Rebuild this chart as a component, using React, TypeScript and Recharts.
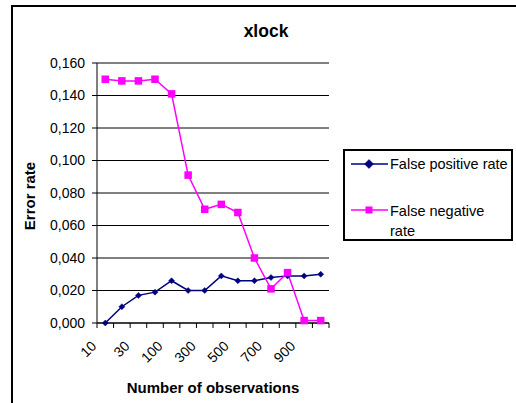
import React from "react";
import {
  LineChart,
  Line,
  XAxis,
  YAxis,
  CartesianGrid,
  ReferenceLine,
  Legend,
} from "recharts";

// observation counts on the category axis
const observations = [10, 20, 30, 50, 100, 200, 300, 400, 500, 600, 700, 800, 900, 1000];
const falsePositive = [0.0, 0.01, 0.017, 0.019, 0.026, 0.02, 0.02, 0.029, 0.026, 0.026, 0.028, 0.029, 0.029, 0.03];
const falseNegative = [0.15, 0.149, 0.149, 0.15, 0.141, 0.091, 0.07, 0.073, 0.068, 0.04, 0.021, 0.031, 0.0015, 0.0015];
const yTicks = [0, 0.02, 0.04, 0.06, 0.08, 0.1, 0.12, 0.14, 0.16];

const data = observations.map((n, i) => ({
  n: String(n),
  fp: falsePositive[i],
  fn: falseNegative[i],
}));

const FONT = "'Liberation Sans', Arial, sans-serif";
const NAVY = "#000080";
const MAGENTA = "#ff00ff";

const PLOT_LEFT = 97;
const PLOT_RIGHT = 329;
const HALF_STEP = (PLOT_RIGHT - PLOT_LEFT) / (observations.length * 2);

const fmt = (v: number) => v.toFixed(3).replace(".", ",");

const Diamond = ({ cx, cy, fill, r = 4.5 }: any) =>
  cx == null || cy == null ? null : (
    <polygon
      points={`${cx},${cy - r} ${cx + r},${cy} ${cx},${cy + r} ${cx - r},${cy}`}
      fill={fill}
      stroke={fill}
      strokeWidth={0.5}
    />
  );

const Square = ({ cx, cy, fill, s = 7.5 }: any) =>
  cx == null || cy == null ? null : (
    <rect x={cx - s / 2} y={cy - s / 2} width={s} height={s} fill={fill} />
  );

// tick marks sit on the category boundaries, labels on every other category
const XTick = ({ x, y, payload, index }: any) => {
  const last = index === observations.length - 1;
  return (
    <g>
      <line x1={x - HALF_STEP} x2={x - HALF_STEP} y1={y} y2={y + 5} stroke="#000" />
      {last && <line x1={x + HALF_STEP} x2={x + HALF_STEP} y1={y} y2={y + 5} stroke="#000" />}
      {index % 2 === 0 && (
        <text
          x={x - 8}
          y={y + 24}
          textAnchor="end"
          transform={`rotate(-45 ${x - 8} ${y + 24})`}
          fontSize={14}
          fontFamily={FONT}
          fill="#000"
        >
          {payload.value}
        </text>
      )}
    </g>
  );
};

const LegendBox = () => (
  <div
    style={{
      width: 166,
      height: 88,
      border: "2px solid #000",
      background: "#fff",
      fontFamily: FONT,
      fontSize: 14.5,
      position: "relative",
    }}
  >
    <svg width={40} height={90} style={{ position: "absolute", left: 4, top: 0 }}>
      <line x1={2} x2={39} y1={13} y2={13} stroke={NAVY} strokeWidth={1.5} />
      <Diamond cx={20} cy={13} fill={NAVY} />
      <line x1={2} x2={39} y1={59} y2={59} stroke={MAGENTA} strokeWidth={1.5} />
      <Square cx={20} cy={59} fill={MAGENTA} s={7} />
    </svg>
    <div style={{ position: "absolute", left: 45, top: 4, lineHeight: "18px" }}>
      False positive rate
    </div>
    <div style={{ position: "absolute", left: 45, top: 50, lineHeight: "20px" }}>
      False negative
      <br />
      rate
    </div>
  </div>
);

export default function App() {
  return (
    <div
      style={{
        position: "absolute",
        left: 0,
        top: 0,
        width: 516,
        height: 403,
        overflow: "hidden",
        background: "#fff",
        fontFamily: FONT,
      }}
    >
      {/* chart area frame */}
      <div
        style={{
          position: "absolute",
          left: 11,
          top: 5,
          width: 520,
          height: 420,
          borderLeft: "2px solid #000",
          borderTop: "2px solid #000",
        }}
      />
      <div
        style={{
          position: "absolute",
          left: 0,
          width: 532,
          top: 21,
          textAlign: "center",
          fontWeight: "bold",
          fontSize: 17.5,
        }}
      >
        xlock
      </div>
      <div style={{ position: "absolute", left: 0, top: 0 }}>
        <LineChart
          width={516}
          height={403}
          data={data}
          margin={{ top: 63, right: 187, left: 0, bottom: 40 }}
        >
          <CartesianGrid vertical={false} stroke="#000" strokeWidth={1} />
          <XAxis
            dataKey="n"
            interval={0}
            height={40}
            padding={{ left: HALF_STEP, right: HALF_STEP }}
            tickLine={false}
            tickSize={0}
            tickMargin={0}
            axisLine={{ stroke: "#000", strokeWidth: 1 }}
            tick={<XTick />}
            label={{
              value: "Number of observations",
              position: "bottom",
              offset: 19,
              fontSize: 15,
              fontWeight: "bold",
              fontFamily: FONT,
              fill: "#000",
            }}
          />
          <YAxis
            width={97}
            domain={[0, 0.16]}
            ticks={yTicks}
            interval={0}
            tickFormatter={fmt}
            tickSize={5}
            tickMargin={7}
            tickLine={{ stroke: "#000" }}
            axisLine={{ stroke: "#000", strokeWidth: 1 }}
            tick={{ fontSize: 14, fontFamily: FONT, fill: "#000" }}
            label={{
              value: "Error rate",
              angle: -90,
              position: "insideLeft",
              offset: 30,
              dy: 3,
              fontSize: 15,
              fontWeight: "bold",
              fontFamily: FONT,
              fill: "#000",
              style: { textAnchor: "middle" },
            }}
          />
          <YAxis
            yAxisId="right"
            orientation="right"
            width={0}
            domain={[0, 0.16]}
            tick={false}
            tickLine={false}
            axisLine={{ stroke: "#808080", strokeWidth: 1.5 }}
          />
          <ReferenceLine y={0.16} stroke="#808080" strokeWidth={1.5} />
          <Line
            dataKey="fp"
            name="False positive rate"
            stroke={NAVY}
            strokeWidth={1.5}
            dot={<Diamond fill={NAVY} />}
            isAnimationActive={false}
          />
          <Line
            dataKey="fn"
            name="False negative rate"
            stroke={MAGENTA}
            strokeWidth={1.5}
            dot={<Square fill={MAGENTA} />}
            isAnimationActive={false}
          />
          <Legend
            layout="horizontal"
            align="center"
            verticalAlign="middle"
            content={<LegendBox />}
            wrapperStyle={{ left: 343, top: 149, width: 172, height: 92 }}
          />
        </LineChart>
      </div>
    </div>
  );
}
